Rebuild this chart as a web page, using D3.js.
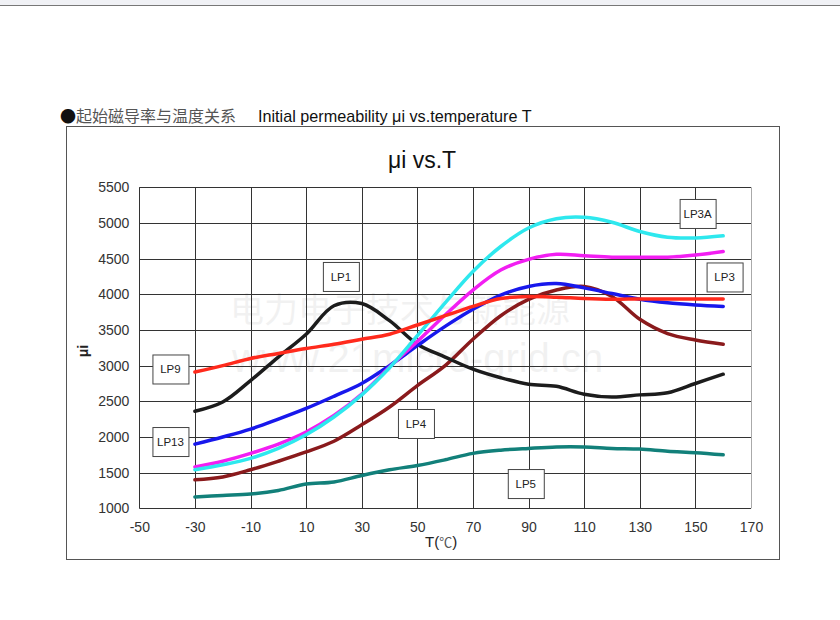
<!DOCTYPE html>
<html>
<head>
<meta charset="utf-8">
<script src="https://cdn.jsdelivr.net/npm/d3@7"></script>
<style>
  body { margin: 0; background: #fff; }
  text { font-family: Arial, "Liberation Sans", sans-serif; }
</style>
</head>
<body>
<div id="chart"></div>
<script>
// Temperature points (°C)
const temps = [-30, -20, -10, 0, 10, 20, 30, 40, 50, 60, 70, 80, 90, 100, 110, 120, 130, 140, 150, 160];

// Initial permeability per material
const lp1  = [2360, 2490, 2790, 3120, 3440, 3840, 3870, 3630, 3300, 3120, 2950, 2830, 2740, 2710, 2600, 2560, 2590, 2620, 2750, 2880];
const lp9  = [2910, 3000, 3100, 3170, 3240, 3300, 3370, 3440, 3570, 3700, 3830, 3940, 3970, 3960, 3940, 3930, 3935, 3935, 3935, 3935];
const lp3a = [1540, 1610, 1700, 1840, 2030, 2280, 2590, 2970, 3420, 3880, 4320, 4670, 4930, 5060, 5080, 5010, 4880, 4800, 4790, 4820];
const lp3  = [1580, 1660, 1770, 1900, 2070, 2300, 2600, 2980, 3340, 3710, 4060, 4340, 4490, 4560, 4540, 4520, 4520, 4520, 4550, 4600];
const lp13 = [1900, 2000, 2110, 2250, 2400, 2570, 2750, 3000, 3280, 3550, 3790, 3990, 4110, 4150, 4090, 4010, 3930, 3880, 3850, 3830];
const lp4  = [1400, 1440, 1540, 1660, 1790, 1940, 2170, 2420, 2720, 3000, 3370, 3700, 3930, 4060, 4110, 3970, 3650, 3450, 3360, 3300];
const lp5  = [1160, 1180, 1200, 1250, 1340, 1370, 1460, 1540, 1600, 1680, 1770, 1815, 1840, 1860, 1860, 1840, 1830, 1800, 1780, 1750];

const xTicks = [-50, -30, -10, 10, 30, 50, 70, 90, 110, 130, 150, 170];
const yTicks = [1000, 1500, 2000, 2500, 3000, 3500, 4000, 4500, 5000, 5500];

// Series in drawing order
const series = [
  { name: 'LP5',  values: lp5,  color: '#12807a' },
  { name: 'LP4',  values: lp4,  color: '#8a1a1c' },
  { name: 'LP1',  values: lp1,  color: '#1c1c1c' },
  { name: 'LP13', values: lp13, color: '#1818ec' },
  { name: 'LP3',  values: lp3,  color: '#f21ef2' },
  { name: 'LP3A', values: lp3a, color: '#2ee8ee' },
  { name: 'LP9',  values: lp9,  color: '#ff2a1c' }
];

// Label boxes, centre in data units
const labelNames = ['LP1', 'LP9', 'LP13', 'LP4', 'LP5', 'LP3A', 'LP3'];
const labelT     = [22.5, -38.8, -38.8, 49.5, 89, 150.8, 160.5];
const labelMu    = [4250, 2953, 1936, 2189, 1347, 5133, 4243];

const W = 840, H = 620;
const svg = d3.select('#chart').append('svg')
  .attr('width', W)
  .attr('height', H);

// browser-ish top strip
svg.append('rect').attr('x', 0).attr('y', 0).attr('width', W).attr('height', 5).attr('fill', '#f0f1f5');
svg.append('line').attr('x1', 0).attr('x2', W).attr('y1', 5.5).attr('y2', 5.5)
  .attr('stroke', '#777').attr('stroke-width', 1);

// Header
svg.append('text')
  .attr('x', 60).attr('y', 122)
  .style('font-family', '"Noto Sans CJK SC", sans-serif')
  .style('font-size', '16px')
  .attr('fill', '#555')
  .html('<tspan fill="#111">●</tspan>起始磁导率与温度关系');

svg.append('text')
  .attr('x', 258).attr('y', 122)
  .style('font-size', '16.2px')
  .attr('fill', '#111')
  .text('Initial permeability μi vs.temperature T');

// Outer frame
svg.append('rect')
  .attr('x', 66.5).attr('y', 126.5)
  .attr('width', 713).attr('height', 433)
  .attr('fill', 'none')
  .attr('stroke', '#555')
  .attr('stroke-width', 1);

// Scales
const x = d3.scaleLinear().domain([-50, 170]).range([139.3, 751]);
const y = d3.scaleLinear().domain([1000, 5500]).range([508.3, 187.3]);

// Watermark
svg.append('text')
  .attr('x', 230).attr('y', 322)
  .style('font-family', '"Noto Sans CJK SC", sans-serif')
  .style('font-size', '34px')
  .attr('fill', '#000').attr('opacity', 0.05)
  .text('电力电子技术与新能源');
svg.append('text')
  .attr('x', 232).attr('y', 372)
  .style('font-size', '40px')
  .attr('fill', '#000').attr('opacity', 0.05)
  .text('www.21micro-grid.cn');

// Grid
const grid = svg.append('g').attr('class', 'grid');
grid.selectAll('.hline')
  .data(yTicks)
  .enter().append('line')
  .attr('x1', x(-50)).attr('x2', x(170))
  .attr('y1', d => Math.round(y(d)) + 0.5)
  .attr('y2', d => Math.round(y(d)) + 0.5)
  .attr('stroke', '#333').attr('stroke-width', 1);

grid.selectAll('.vline')
  .data(xTicks)
  .enter().append('line')
  .attr('x1', d => Math.round(x(d)) + 0.5)
  .attr('x2', d => Math.round(x(d)) + 0.5)
  .attr('y1', y(5500)).attr('y2', y(1000))
  .attr('stroke', d => d === 170 ? '#aaa' : '#333')
  .attr('stroke-width', 1);

// Axes (labels only)
const plain = d => String(d);
const xAxis = d3.axisBottom(x).tickValues(xTicks).tickFormat(plain).tickSize(0).tickPadding(14);
const yAxis = d3.axisLeft(y).tickValues(yTicks).tickFormat(plain).tickSize(0).tickPadding(10);

const gx = svg.append('g')
  .attr('transform', `translate(0,${y(1000)})`)
  .call(xAxis);
const gy = svg.append('g')
  .attr('transform', `translate(${x(-50)},0)`)
  .call(yAxis);

[gx, gy].forEach(g => {
  g.select('.domain').remove();
  g.selectAll('text')
    .style('font-family', 'Arial, "Liberation Sans", sans-serif')
    .style('font-size', '14px')
    .attr('fill', '#333');
});

// Title and axis titles
svg.append('text')
  .attr('x', 422).attr('y', 168)
  .attr('text-anchor', 'middle')
  .style('font-size', '23px')
  .attr('fill', '#111')
  .text('μi vs.T');

svg.append('text')
  .attr('transform', 'translate(88,351) rotate(-90)')
  .attr('text-anchor', 'middle')
  .style('font-size', '14px')
  .style('font-weight', 'bold')
  .attr('fill', '#222')
  .text('μi');

svg.append('text')
  .attr('x', 425).attr('y', 547)
  .style('font-size', '15px')
  .attr('fill', '#222')
  .html('T(<tspan style="font-family: \'Noto Sans CJK SC\'; font-size: 13px" fill="#555">℃</tspan>)');

// Curves
const line = d3.line()
  .x(d => x(d.t))
  .y(d => y(d.v))
  .curve(d3.curveCatmullRom.alpha(0.5));

series.forEach(s => {
  const pts = temps.map((t, i) => ({ t: t, v: s.values[i] }));
  svg.append('path')
    .datum(pts)
    .attr('d', line)
    .attr('fill', 'none')
    .attr('stroke', s.color)
    .attr('stroke-width', 3.5)
    .attr('stroke-linecap', 'round')
    .attr('stroke-linejoin', 'round');
});

// Label boxes
const boxW = 36, boxH = 29;
const labels = svg.selectAll('.lbl')
  .data(labelNames)
  .enter().append('g')
  .attr('class', 'lbl')
  .attr('transform', (d, i) => `translate(${x(labelT[i])},${y(labelMu[i])})`);

labels.append('rect')
  .attr('x', -boxW / 2 + 0.5).attr('y', -boxH / 2 + 0.5)
  .attr('width', boxW).attr('height', boxH)
  .attr('fill', '#fff')
  .attr('stroke', '#444')
  .attr('stroke-width', 1);

labels.append('text')
  .attr('text-anchor', 'middle')
  .attr('dy', '0.36em')
  .style('font-size', '11.5px')
  .attr('fill', '#222')
  .text(d => d);
</script>
</body>
</html>
